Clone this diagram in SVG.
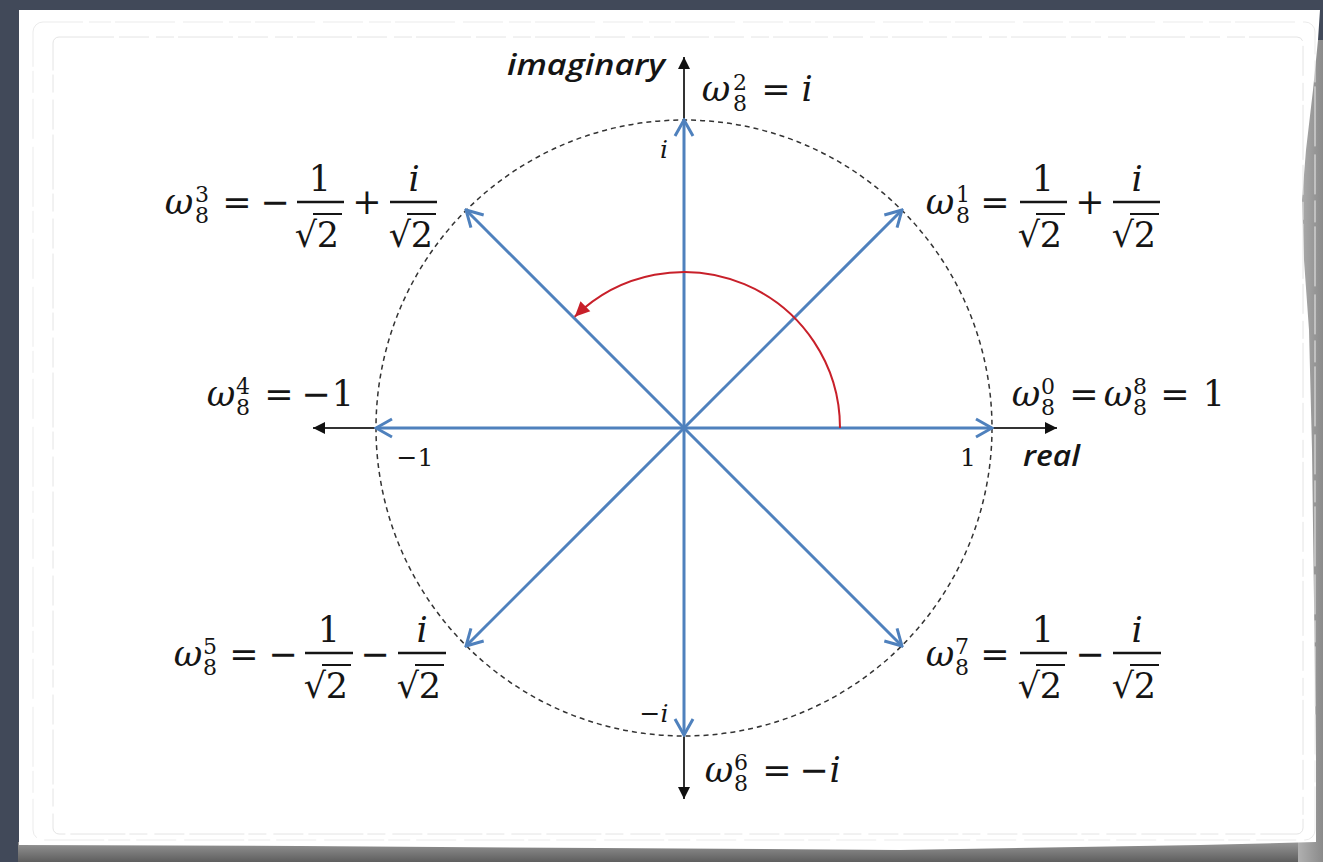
<svg xmlns="http://www.w3.org/2000/svg" width="1323" height="862" viewBox="0 0 1323 862">
<style>
.m{font-family:"DejaVu Serif","Liberation Serif",serif;font-size:35px;fill:#151515;text-anchor:middle}
.it{font-style:italic}
.sc{font-size:22px}
.tk{font-size:25px}
.lab{font-family:"Open Sans","Liberation Sans",sans-serif;font-style:italic;font-weight:600;font-size:29px;fill:#151515}
.bar{stroke:#151515;stroke-width:2.5}
.vin{stroke:#151515;stroke-width:2}
.blue{stroke:#4f81bd;stroke-width:3;fill:none;marker-end:url(#openArrow)}
.axis{stroke:#333;stroke-width:2;fill:none;marker-end:url(#blackArrow)}
</style>
<defs>
<marker id="openArrow" viewBox="-18 -11 20 22" refX="0" refY="0" markerWidth="20" markerHeight="22" markerUnits="userSpaceOnUse" orient="auto">
<path d="M-16,-9 L0,0 L-16,9" fill="none" stroke="#4f81bd" stroke-width="3" stroke-linejoin="miter"/>
</marker>
<marker id="blackArrow" viewBox="-13 -7 14 14" refX="0" refY="0" markerWidth="14" markerHeight="14" markerUnits="userSpaceOnUse" orient="auto">
<path d="M-12,-6 L0,0 L-12,6 Z" fill="#111"/>
</marker>
<marker id="redArrow" viewBox="-16 -8 17 16" refX="0" refY="0" markerWidth="17" markerHeight="16" markerUnits="userSpaceOnUse" orient="auto">
<path d="M-15,-7 L0,0 L-15,7 Z" fill="#c8202a"/>
</marker>
<linearGradient id="shB" x1="0" y1="0" x2="0" y2="1">
<stop offset="0" stop-color="#a8a8a8"/>
<stop offset="1" stop-color="#5e5e5e"/>
</linearGradient>
<linearGradient id="shR" x1="0" y1="0" x2="1" y2="0">
<stop offset="0" stop-color="#b0b0b0"/>
<stop offset="1" stop-color="#8a8a8a"/>
</linearGradient>
</defs>

<g id="background">
<rect x="0" y="0" width="1323" height="862" fill="#414959"/>
<path d="M18,842 L1323,836 L1323,862 L18,862 Z" fill="url(#shB)"/>
<path d="M1298,40 L1323,40 L1323,862 L1298,862 Z" fill="url(#shR)"/>
<path d="M19,10 L1320,10 L1318,40 L1313,90 L1306,150 L1302,200 L1304,260 L1309,330 L1312,450 L1314,600 L1316,760 L1316,842 L1200,845 L900,850 L600,848 L300,846 L19,845 Z" fill="#ffffff"/>
<rect x="33" y="22" width="1282" height="818" rx="10" fill="none" stroke="#ebebeb" stroke-width="1" stroke-dasharray="40 6 22 4 60 8"/>
<rect x="53" y="37" width="1250" height="797" rx="6" fill="none" stroke="#e4e4e4" stroke-width="1" stroke-dasharray="55 5 30 7 18 4"/>
</g>

<g id="circle">
<circle cx="684" cy="428" r="308" fill="none" stroke="#333" stroke-width="1.5" stroke-dasharray="5 4"/>
</g>

<g id="connectors">
<line class="axis" x1="377" y1="428" x2="313" y2="428"/>
<line class="axis" x1="992" y1="428" x2="1057" y2="428"/>
<line class="axis" x1="684" y1="120" x2="684" y2="57"/>
<line class="axis" x1="684" y1="735" x2="684" y2="799"/>
<line class="blue" x1="684" y1="428" x2="992" y2="428"/>
<line class="blue" x1="684" y1="428" x2="902" y2="210"/>
<line class="blue" x1="684" y1="428" x2="684" y2="120"/>
<line class="blue" x1="684" y1="428" x2="466" y2="210"/>
<line class="blue" x1="684" y1="428" x2="376" y2="428"/>
<line class="blue" x1="684" y1="428" x2="466" y2="646"/>
<line class="blue" x1="684" y1="428" x2="684" y2="735"/>
<line class="blue" x1="684" y1="428" x2="902" y2="646"/>
<path d="M840,428 A156,156 0 0 0 574.7,316.7" fill="none" stroke="#c8202a" stroke-width="2" marker-end="url(#redArrow)"/>
</g>

<g id="axis-labels">
<text class="lab" x="507" y="75" textLength="158" lengthAdjust="spacingAndGlyphs">imaginary</text>
<text class="lab" x="1023" y="466" textLength="57" lengthAdjust="spacingAndGlyphs">real</text>
<text class="m it tk" x="664" y="158">i</text>
<text class="m tk" x="968" y="466">1</text>
<text class="m tk" x="415" y="466">−1</text>
<text class="m it tk" x="654" y="722">−<tspan>i</tspan></text>
</g>

<g id="w2">
<text class="m it" x="716" y="101">ω</text>
<text class="m sc" x="740" y="90">2</text>
<text class="m sc" x="740" y="111">8</text>
<text class="m" x="776" y="101">=</text>
<text class="m it" x="807" y="101">i</text>
</g>

<g id="w1">
<text class="m it" x="940" y="214">ω</text>
<text class="m sc" x="963" y="202">1</text>
<text class="m sc" x="963" y="223">8</text>
<text class="m" x="995" y="214">=</text>
<text class="m" x="1043" y="191">1</text>
<line class="bar" x1="1020" y1="202" x2="1067" y2="202"/>
<text class="m" x="1029" y="247">√</text>
<text class="m" x="1051" y="247">2</text>
<line class="vin" x1="1036" y1="214" x2="1065" y2="214"/>
<text class="m" x="1090" y="214">+</text>
<text class="m it" x="1137" y="191">i</text>
<line class="bar" x1="1113" y1="202" x2="1160" y2="202"/>
<text class="m" x="1123" y="247">√</text>
<text class="m" x="1145" y="247">2</text>
<line class="vin" x1="1130" y1="214" x2="1159" y2="214"/>
</g>

<g id="w3">
<text class="m it" x="179" y="214">ω</text>
<text class="m sc" x="202" y="202">3</text>
<text class="m sc" x="202" y="223">8</text>
<text class="m" x="237" y="214">=</text>
<text class="m" x="275" y="214">−</text>
<text class="m" x="320" y="191">1</text>
<line class="bar" x1="297" y1="202" x2="344" y2="202"/>
<text class="m" x="306" y="247">√</text>
<text class="m" x="328" y="247">2</text>
<line class="vin" x1="313" y1="214" x2="342" y2="214"/>
<text class="m" x="367" y="214">+</text>
<text class="m it" x="414" y="191">i</text>
<line class="bar" x1="390" y1="202" x2="437" y2="202"/>
<text class="m" x="400" y="247">√</text>
<text class="m" x="422" y="247">2</text>
<line class="vin" x1="407" y1="214" x2="436" y2="214"/>
</g>

<g id="w4">
<text class="m it" x="221" y="406">ω</text>
<text class="m sc" x="243" y="394">4</text>
<text class="m sc" x="243" y="415">8</text>
<text class="m" x="279" y="406">=</text>
<text class="m" x="316" y="406">−</text>
<text class="m" x="343" y="406">1</text>
</g>

<g id="w0">
<text class="m it" x="1026" y="406">ω</text>
<text class="m sc" x="1048" y="394">0</text>
<text class="m sc" x="1048" y="415">8</text>
<text class="m" x="1084" y="406">=</text>
<text class="m it" x="1118" y="406">ω</text>
<text class="m sc" x="1140" y="394">8</text>
<text class="m sc" x="1140" y="415">8</text>
<text class="m" x="1175" y="406">=</text>
<text class="m" x="1214" y="406">1</text>
</g>

<g id="w5">
<text class="m it" x="188" y="666">ω</text>
<text class="m sc" x="210" y="654">5</text>
<text class="m sc" x="210" y="675">8</text>
<text class="m" x="244" y="666">=</text>
<text class="m" x="283" y="666">−</text>
<text class="m" x="329" y="642">1</text>
<line class="bar" x1="305" y1="653" x2="353" y2="653"/>
<text class="m" x="315" y="698">√</text>
<text class="m" x="337" y="698">2</text>
<line class="vin" x1="322" y1="665" x2="351" y2="665"/>
<text class="m" x="375" y="666">−</text>
<text class="m it" x="422" y="642">i</text>
<line class="bar" x1="398" y1="653" x2="446" y2="653"/>
<text class="m" x="408" y="698">√</text>
<text class="m" x="430" y="698">2</text>
<line class="vin" x1="415" y1="665" x2="444" y2="665"/>
</g>

<g id="w7">
<text class="m it" x="940" y="666">ω</text>
<text class="m sc" x="962" y="654">7</text>
<text class="m sc" x="962" y="675">8</text>
<text class="m" x="995" y="666">=</text>
<text class="m" x="1043" y="642">1</text>
<line class="bar" x1="1020" y1="653" x2="1067" y2="653"/>
<text class="m" x="1029" y="698">√</text>
<text class="m" x="1051" y="698">2</text>
<line class="vin" x1="1036" y1="665" x2="1065" y2="665"/>
<text class="m" x="1090" y="666">−</text>
<text class="m it" x="1137" y="642">i</text>
<line class="bar" x1="1113" y1="653" x2="1161" y2="653"/>
<text class="m" x="1123" y="698">√</text>
<text class="m" x="1145" y="698">2</text>
<line class="vin" x1="1130" y1="665" x2="1159" y2="665"/>
</g>

<g id="w6">
<text class="m it" x="719" y="782">ω</text>
<text class="m sc" x="741" y="770">6</text>
<text class="m sc" x="741" y="791">8</text>
<text class="m" x="777" y="782">=</text>
<text class="m" x="814" y="782">−</text>
<text class="m it" x="835" y="782">i</text>
</g>
</svg>
